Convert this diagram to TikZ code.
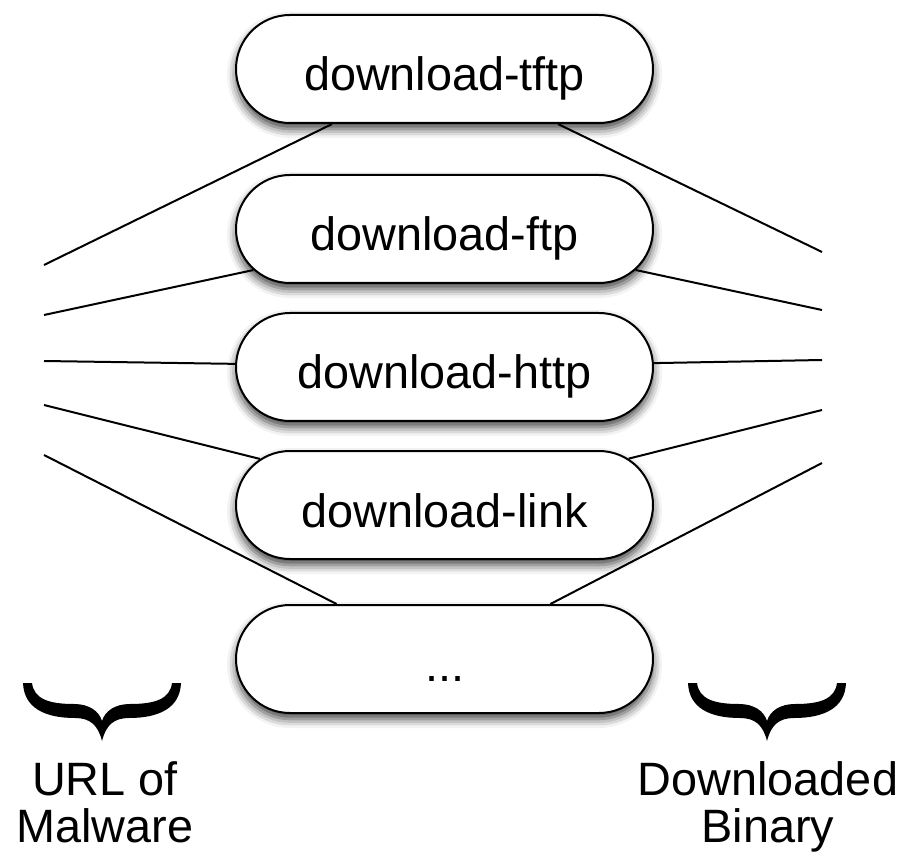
\documentclass[tikz,border=0pt]{standalone}
\usepackage{fontspec}
\setmainfont{Liberation Sans}
\usetikzlibrary{shapes.misc,shadows.blur}
\begin{document}
\begin{tikzpicture}[x=1pt,y=-1pt,
  proc/.style={rounded rectangle, draw=black, line width=2pt, fill=white,
    minimum width=417pt, minimum height=108pt, inner sep=0pt,
    text height=44pt, text depth=0pt, font=\fontsize{46.8}{56}\selectfont,
    blur shadow={shadow xshift=0pt, shadow yshift=-6pt, shadow blur radius=9pt, shadow opacity=75}},
  conn/.style={line width=2pt, black},
  bracefill/.style={fill=black, draw=none},
  lbl/.style={font=\fontsize{46.8}{47}\selectfont, align=center, anchor=north, inner sep=0pt}]
\useasboundingbox (0,0) rectangle (905,858);

\node[proc] (tftp) at (444.5,69) {download-tftp};
\node[proc] (ftp)  at (444.5,229) {download-ftp};
\node[proc] (http) at (444.5,367) {download-http};
\node[proc] (link) at (444.5,505) {download-link};
\node[proc] (more) at (444.5,659) {...};

\coordinate (l1) at (44,265);
\coordinate (l2) at (44,315);
\coordinate (l3) at (44,361);
\coordinate (l4) at (44,405);
\coordinate (l5) at (44,455);
\coordinate (r1) at (822,252);
\coordinate (r2) at (822,310);
\coordinate (r3) at (822,360);
\coordinate (r4) at (822,410);
\coordinate (r5) at (822,463);

\draw[conn] (l1) -- (tftp);
\draw[conn] (l2) -- (ftp);
\draw[conn] (l3) -- (http);
\draw[conn] (l4) -- (link);
\draw[conn] (l5) -- (more);
\draw[conn] (tftp) -- (r1);
\draw[conn] (ftp) -- (r2);
\draw[conn] (http) -- (r3);
\draw[conn] (link) -- (r4);
\draw[conn] (more) -- (r5);

\foreach \dx in {0,665}{
\begin{scope}[shift={(\dx,0)}]
\fill[bracefill] (23,683) .. controls (24,708) and (45,718) .. (75,718)
  .. controls (90,718) and (98,725) .. (102,741)
  .. controls (106,725) and (114,718) .. (129,718)
  .. controls (159,718) and (180,708) .. (181,683)
  -- (172,683) .. controls (170,699) and (155,704) .. (130,704)
  .. controls (115,704) and (105,711) .. (102,721)
  .. controls (99,711) and (89,704) .. (74,704)
  .. controls (49,704) and (34,699) .. (32,683) -- cycle;
\end{scope}}

\node[lbl] (url) at (105,761) {URL of\\Malware};
\node[lbl] (bin) at (768,761) {Downloaded\\Binary};
\end{tikzpicture}
\end{document}
